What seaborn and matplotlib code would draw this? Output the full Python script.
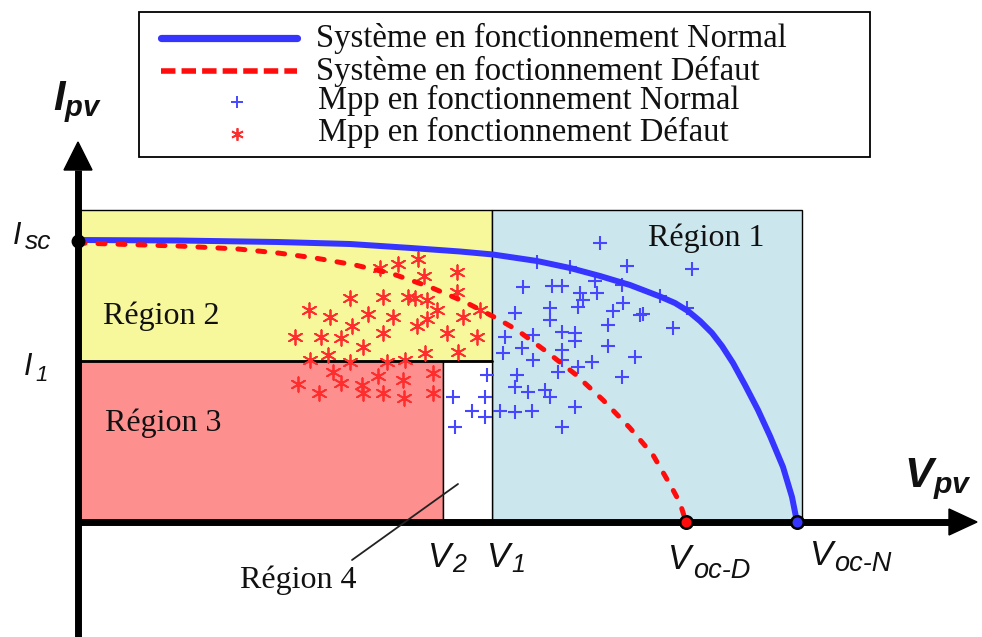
import matplotlib
matplotlib.use("Agg")
import matplotlib.pyplot as plt
import seaborn as sns
from matplotlib.patches import Rectangle, Polygon
from matplotlib.lines import Line2D

sns.set_theme(style="white")
plt.rcParams["font.family"] = ["Liberation Serif", "DejaVu Serif"]
plt.rcParams["mathtext.fontset"] = "custom"
plt.rcParams["mathtext.it"] = "Liberation Sans:italic"
plt.rcParams["mathtext.rm"] = "Liberation Sans:italic"
plt.rcParams["mathtext.sf"] = "Liberation Sans:italic"
plt.rcParams["mathtext.bf"] = "Liberation Sans:italic:bold"

# ---------------- data (schematic units) ----------------
I_SC = 281      # short-circuit current
I_1 = 161       # current threshold I1
I_TOP = 312     # upper limit of regions 1/2
V_2 = 365
V_1 = 414
V_OC_D = 608
V_OC_N = 719
V_R1_END = 724

# I-V curve, normal operation
V_NORMAL = [0, 100, 200, 272, 333, 382, 415, 459, 492, 522, 552, 582, 597, 610,
            622, 634, 644, 655, 667, 680, 692, 705, 714, 719]
I_NORMAL = [282, 281.5, 280, 278, 274, 270.5, 267.5, 261, 254, 246, 237, 225.5,
            219, 211, 201, 189, 176, 159, 137, 112, 86, 55, 25, 0]

# I-V curve, faulty operation
V_FAULT = [0, 100, 160, 200, 237, 277, 315, 352, 387, 420, 439, 469, 497, 525,
           552, 575, 594, 602, 608]
I_FAULT = [279, 276, 273, 269, 264, 257, 248, 235, 220, 203, 192, 170, 148, 122,
           94, 67, 34, 19, 0]

# MPP, normal operation
MPP_N_V = [522, 549, 614, 459, 492, 445, 474, 484, 517, 519, 502, 505, 500, 544,
           545, 582, 609, 437, 472, 472, 535, 562, 565, 530, 595, 427, 455, 484,
           497, 497, 425, 444, 455, 484, 484, 530, 557, 514, 480, 500, 544, 439,
           437, 450, 467, 472, 409, 375, 407, 394, 407, 377, 422, 437, 454, 497, 484]
MPP_N_I = [279, 256, 253, 260, 255, 235, 236, 236, 241, 229, 229, 222, 215, 237,
           219, 226, 214, 209, 214, 202, 211, 207, 208, 197, 194, 185, 187, 190,
           189, 181, 169, 174, 162, 172, 162, 176, 165, 160, 150, 155, 145, 147,
           135, 130, 132, 125, 147, 125, 125, 111, 105, 95, 111, 110, 111, 115, 95]

# MPP, faulty operation
MPP_D_V = [340, 320, 302, 379, 346, 379, 272, 305, 330, 337, 349, 359, 231, 252,
           290, 315, 274, 339, 349, 385, 402, 217, 243, 263, 305, 369, 399, 285,
           250, 232, 272, 309, 327, 347, 380, 255, 300, 325, 355, 220, 241, 263,
           284, 285, 305, 326, 355]
MPP_D_I = [263, 258, 254, 250, 246, 230, 224, 225, 225, 224, 222, 212, 212, 205,
           208, 205, 196, 196, 203, 205, 212, 185, 185, 184, 189, 189, 185, 175,
           167, 162, 160, 160, 162, 169, 170, 150, 146, 142, 149, 138, 129, 139,
           137, 129, 129, 124, 129]

LEGEND_LABELS = ["Système en fonctionnement Normal",
                 "Système en foctionnement Défaut",
                 "Mpp en fonctionnement Normal",
                 "Mpp en fonctionnement Défaut"]
REGION_LABELS = ["Région 1", "Région 2", "Région 3", "Région 4"]

# ---------------- colours ----------------
C_BLUE = "#3535ff"
C_RED = "#ff0d0d"
C_YELLOW = "#f7f79c"
C_PINK = "#fd8f8f"
C_CYAN = "#cbe6ed"
C_PLUS = "#4747ff"
C_STAR = "#ff2e2e"

# ---------------- figure ----------------
W, H = 982, 637
X0, Y0 = 78, 522
fig = plt.figure(figsize=(W / 100, H / 100), dpi=100)
ax = fig.add_axes([0, 0, 1, 1])
ax.set_xlim(-X0, W - X0)
ax.set_ylim(-(H - Y0), Y0)
ax.axis("off")


def fp(px, py):
    return (px / W, 1 - py / H)


# regions
ax.add_patch(Rectangle((0, I_1), V_1, I_TOP - I_1, facecolor=C_YELLOW,
                       edgecolor="black", lw=1.0, zorder=1))
ax.add_patch(Rectangle((V_1, 0), V_R1_END - V_1, I_TOP, facecolor=C_CYAN,
                       edgecolor="black", lw=1.0, zorder=1))
ax.add_patch(Rectangle((0, 0), V_2, I_1, facecolor=C_PINK,
                       edgecolor="black", lw=1.0, zorder=1))
ax.add_patch(Rectangle((V_2, 0), V_1 - V_2, I_1, facecolor="white",
                       edgecolor="black", lw=1.0, zorder=1))
ax.plot([0, V_1], [I_1, I_1], color="black", lw=2.0, zorder=2)

# MPP scatter
sns.scatterplot(x=MPP_D_V, y=MPP_D_I, marker=(6, 2, 0), s=110, color=C_STAR,
                linewidth=1.3, ax=ax, zorder=4, legend=False)
sns.scatterplot(x=MPP_N_V, y=MPP_N_I, marker="+", s=110, color=C_PLUS,
                linewidth=1.5, ax=ax, zorder=4, legend=False)

# I-V curves
sns.lineplot(x=V_NORMAL, y=I_NORMAL, sort=False, estimator=None, color=C_BLUE,
             lw=4.3, solid_capstyle="round", solid_joinstyle="round", ax=ax,
             zorder=5)
sns.lineplot(x=V_FAULT, y=I_FAULT, sort=False, estimator=None, color=C_RED,
             lw=3.6, linestyle=(0, (1.4, 2.6)), dash_capstyle="round", ax=ax,
             zorder=5)

# axes with arrows
ax.plot([0, 0], [-(H - Y0), 352], color="black", lw=5, zorder=6,
        solid_capstyle="butt")
ax.add_patch(Polygon([(-14, 352), (14, 352), (0, 380)], closed=True,
                     facecolor="black", edgecolor="black", zorder=6))
ax.plot([0, 871], [0, 0], color="black", lw=5, zorder=6, solid_capstyle="butt")
ax.add_patch(Polygon([(871, -13), (871, 13), (899, 0)], closed=True,
                     facecolor="black", edgecolor="black", zorder=6))

# characteristic points
ax.plot([0], [I_SC], marker="o", ms=9, color="black", zorder=7)
ax.plot([V_OC_D], [0], marker="o", ms=9, markerfacecolor=C_RED,
        markeredgecolor="black", mew=1.8, zorder=7)
ax.plot([V_OC_N], [0], marker="o", ms=9, markerfacecolor=C_BLUE,
        markeredgecolor="black", mew=1.8, zorder=7)

# region texts
tf = fig.transFigure
for lab, (px, py) in zip(REGION_LABELS,
                         [(648, 238), (103, 316), (105, 423), (240, 580)]):
    fig.text(*fp(px, py), lab, fontsize=23, ha="left", va="center",
             color="#111111", zorder=8)
fig.add_artist(Line2D([fp(352, 560)[0], fp(458, 484)[0]],
                      [fp(352, 560)[1], fp(458, 484)[1]], color="#222222",
                      lw=1.3, transform=tf, zorder=8))

# axis labels
SANS_IT = dict(family="Liberation Sans", style="italic")


def lab(px, py, s, size):
    fig.text(*fp(px, py), s, fontsize=size, ha="left", va="baseline",
             color="#111111", zorder=8)


def sublab(px, py, main, size, sub, spx, spy, ssize):
    fig.text(*fp(px, py), main, fontsize=size, ha="left", va="baseline",
             color="#111111", zorder=8, **SANS_IT)
    fig.text(*fp(spx, spy), sub, fontsize=ssize, ha="left", va="baseline",
             color="#111111", zorder=8, **SANS_IT)


lab(53, 110, r"$\mathbf{I_{pv}}$", 30)
lab(904, 487, r"$\mathbf{V_{pv}}$", 31)
sublab(13, 244, "I", 22, "sc", 25, 249, 19)
sublab(24, 375, "I", 22, "1", 35, 381, 16)
sublab(428, 567, "V", 25, "2", 452, 572, 18)
sublab(487, 567, "V", 25, "1", 511, 572, 18)
sublab(668, 569, "V", 25, "oc-D", 693, 578, 19.5)
sublab(810, 565, "V", 25, "oc-N", 834, 571, 19.5)

# legend box (drawn manually)
fig.add_artist(Rectangle(fp(139, 157), (870 - 139) / W, (157 - 12) / H,
                         transform=tf, facecolor="white", edgecolor="black",
                         lw=1.3, zorder=9))
fig.add_artist(Line2D([fp(161, 0)[0], fp(297, 0)[0]], [fp(0, 38)[1]] * 2,
                      color=C_BLUE, lw=5.2, transform=tf, zorder=10))
fig.add_artist(Line2D([fp(161, 0)[0], fp(297, 0)[0]], [fp(0, 71)[1]] * 2,
                      color=C_RED, lw=4.0, linestyle=(0, (2.6, 1.1)),
                      transform=tf, zorder=10))
fig.add_artist(Line2D([fp(237, 102)[0]], [fp(237, 102)[1]], marker="+",
                      ms=8, mew=1.4, color=C_PLUS, transform=tf, zorder=10))
fig.add_artist(Line2D([fp(237, 134)[0]], [fp(237, 134)[1]], marker=(6, 2, 0),
                      ms=9, mew=1.3, color=C_STAR, transform=tf, zorder=10))
for txt, (px, py) in zip(LEGEND_LABELS,
                         [(316, 38), (316, 71), (318, 100), (318, 132)]):
    fig.text(*fp(px, py), txt, fontsize=23.5, ha="left", va="center",
             color="#111111", zorder=11)

fig.savefig("out.png", dpi=100)
